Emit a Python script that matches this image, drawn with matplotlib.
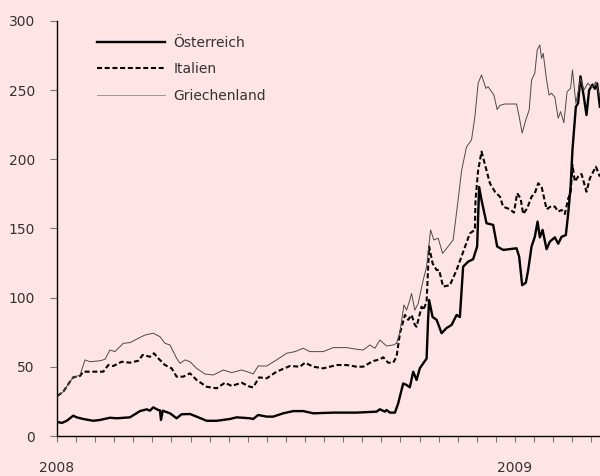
import matplotlib
matplotlib.use("Agg")
import matplotlib.pyplot as plt
from matplotlib.ticker import FixedLocator, FixedFormatter

# Days since 2008-01-01 and values (basis points)
at_days = [0, 3.8, 7.8, 13, 15.7, 21, 29, 34.4, 42.3, 47.7, 58.3, 66.3, 71.7, 74.3, 76.9, 80.9,
           82.3, 83.1, 84.5, 90.3, 95.6, 99.6, 106.3, 111.6, 119.6, 127.6, 138.2, 143.6, 154.2,
           156.8, 160.8, 167.6, 172.8, 180.8, 188.8, 196.8, 204.8, 220.8, 239.5, 255.4, 258.1,
           262.1, 263.4, 266.1, 270.1, 272.7, 276.7, 279.4, 282, 284.7, 287.4, 290, 295.4, 296.6,
           297.4, 300.2, 303.4, 307.4, 311.3, 315.4, 319.4, 322, 324.6, 328.6, 332.6, 335.8,
           337.4, 339.3, 343.3, 348.6, 351.8, 356.6, 367.3, 369.4, 371.8, 374.7, 376.6, 379.3,
           381.9, 384.1, 385.9, 388.1, 391.3, 393.9, 397.9, 400.6, 403.3, 406.7, 408.6, 410.5,
           412, 414.7, 416.5, 418.4, 421.1, 423.2, 425.3, 428, 429.9, 431.7, 433.9]
at_vals = [10.3, 9.4, 11, 14.7, 13.5, 12.3, 11, 11.6, 13.2, 12.8, 13.5, 18, 19.3, 18.3, 20.7, 18.8,
           18.5, 11.6, 18.3, 16.4, 12.8, 15.7, 15.9, 14, 11, 11, 12.3, 13.5, 12.8,
           12.3, 15.2, 14, 14, 16.4, 18, 18, 16.4, 16.9, 16.9, 17.6, 19.3,
           17.6, 18.8, 16.9, 16.9, 23.6, 38, 36.9, 35.2, 46.5, 40.5, 49, 56, 84,
           98.3, 86, 84, 74.3, 78, 80.3, 87.5, 86, 122.4, 126, 127.8, 137,
           180, 170.6, 153.8, 152.6, 137, 134.5, 135.7, 129.6, 109, 110.8, 120, 137,
           144, 155, 143.6, 149, 135, 140.5, 143.6, 139, 144, 145.3, 161, 180,
           207, 238, 240.5, 260, 245, 232, 250, 254, 251, 254.9, 238]

it_days = [0.2, 5, 10.4, 13, 18.4, 21, 29, 37, 41, 45, 51.7, 58.3, 65, 68.5, 74.3, 77.5, 80.9,
           86.3, 91.6, 95.6, 100.9, 106.3, 111.6, 119.6, 127.6, 134.2, 139.6, 147.6, 154.2,
           156.8, 161.6, 167.6, 175.5, 186.2, 194.2, 198.2, 204.8, 212.8, 223.5, 231.5, 239.5,
           244.7, 252.7, 258.1, 260.7, 264.7, 268.7, 271.4, 274.1, 278.1, 280.7, 283.4, 286,
           287.4, 291.4, 292.7, 295.4, 297.4, 300.2, 303.4, 305.4, 308.6, 314, 319.4, 324.6,
           330, 334, 334.5, 336.6, 339.3, 343.3, 346, 350, 354, 356.6, 362, 365.2, 367.8,
           370.5, 372.6, 375.8, 379.3, 381.9, 384.6, 387.3, 391.3, 395.2, 397.9, 400.6, 403.3,
           405.9, 408.6, 410.5, 412, 413.9, 416.5, 419.2, 423.2, 425.9, 430.7, 433.9]
it_vals = [28.9, 32, 39.3, 42.4, 43.4, 46.5, 46.5, 46.5, 51.3, 50.6, 53.7, 53, 54.4, 58.6, 57.3, 59.8, 56.2,
           51.3, 48.9, 42.9, 42.9, 45.3, 40.5, 35.6, 34.5, 38.5, 36.2, 38.5, 35.6,
           35.2, 42.4, 41.7, 46.5, 50.6, 50.1, 53, 50.1, 48.9, 51.3, 51.3, 50.1,
           50.1, 54.2, 55.4, 56.9, 53, 53, 57.3, 74.3, 87.5, 84, 87.5, 80.3,
           79, 93.5, 91, 97, 137, 124.8, 120, 120, 108, 109, 120, 133,
           146.5, 149, 170.6, 192, 205.6, 192, 182.7, 176.6, 173, 165.8, 163.9, 161.5, 175.5,
           171.8, 160.5, 164.6, 173, 175.5, 182.7, 180.3, 163.9, 166.3, 165.8, 162.2, 163.4,
           160.5, 171.8, 175.5, 196, 183.9, 187.5, 189.4, 176.6, 186.3, 194.7, 187.5]

gr_days = [0.2, 5, 10.4, 13, 18.4, 22.4, 26.4, 34.4, 38.4, 42.3, 46.3, 53, 58.3, 65, 70.3, 76.9,
           82.3, 86.3, 90.3, 95.6, 98.3, 102.3, 106.3, 111.6, 118.3, 124.9, 132.9, 139.6, 147.6,
           154.2, 156.8, 160.8, 167.6, 175.5, 183.5, 190.2, 196.8, 202.1, 212.8, 220.8, 231.5,
           239.5, 244.7, 250.1, 254.1, 258.1, 263.4, 268.7, 271.4, 274.1, 277.3, 279.4, 282,
           283.4, 286, 288.7, 292.7, 295.4, 298.6, 301.2, 304.7, 308.2, 312.6, 316.6, 320.6,
           323.4, 327.3, 331.3, 334, 336.6, 339.3, 342.8, 344.6, 347.3, 349.2, 351.8, 354, 358,
           367.3, 369.4, 371.8, 374.7, 377.4, 379.3, 381.9, 383.8, 385.9, 387.3, 388.6, 391.3,
           393.3, 395.2, 397.9, 400.6, 402.5, 405.1, 407.7, 410.5, 412, 414.7, 416.5, 418.4,
           421.1, 424.3, 427.5, 430.7, 433.9]
gr_vals = [28.9, 32, 39.3, 42.4, 44, 55, 53.7, 54.4, 55.4, 62.2, 61, 67, 67.5, 70.6, 73, 74.3,
           71.8, 67, 65.8, 56.2, 52.5, 55, 53.7, 48.9, 44.8, 44.1, 47.7, 45.8, 47.7,
           45.8, 44.8, 50.6, 50.6, 55, 59.8, 61, 63.4, 61, 61, 63.9, 63.9,
           62.7, 62.2, 65.8, 63.4, 69.4, 65.1, 65.8, 67, 75.4, 94.7, 91, 98.3,
           103, 91, 95.9, 112.8, 122.4, 149, 141.7, 143, 132, 137, 141.7, 170.6,
           192, 209, 214, 230.8, 255, 261, 251.3, 252.5, 248.9, 246.5, 236, 239, 240,
           240, 230.8, 219, 228.5, 235.7, 257.4, 262.3, 279, 282.7, 273, 276.6, 257.4,
           246.5, 247.8, 245, 229.7, 234.5, 226.5, 248.9, 251.3, 264.6, 240.5, 248.9, 258.6,
           250, 255, 252, 256, 245]

series_names = ["Österreich", "Italien", "Griechenland"]
year_ticks = [0, 366]
year_labels = ["2008", "2009"]

bg = "#FFE4E6"
fig = plt.figure(figsize=(6.0, 4.76), dpi=100, facecolor=bg)
ax = fig.add_axes([57 / 600, 1 - 436 / 476, 1 - 57 / 600, 415 / 476])
ax.set_facecolor(bg)

ax.plot(at_days, at_vals, color="black", lw=1.7, label=series_names[0], solid_joinstyle="round")
ax.plot(it_days, it_vals, color="black", lw=1.5, ls=(0, (2.4, 1.3)), label=series_names[1])
ax.plot(gr_days, gr_vals, color="#4a4a4a", lw=0.7, label=series_names[2])

ax.set_xlim(0, 434)
ax.set_ylim(0, 300)
ax.set_yticks(range(0, 301, 50))

half_month = 366 / 24
minor = [k * half_month for k in range(0, 29)]
ax.xaxis.set_major_locator(FixedLocator(year_ticks))
ax.xaxis.set_major_formatter(FixedFormatter(year_labels))
ax.xaxis.set_minor_locator(FixedLocator(minor))

for s in ["top", "right"]:
    ax.spines[s].set_visible(False)
for s in ["left", "bottom"]:
    ax.spines[s].set_linewidth(1.0)
    ax.spines[s].set_color("black")

ax.tick_params(axis="y", direction="out", length=5, width=0.8, color="#777777",
               pad=11, labelsize=10, labelcolor="#333333")
ax.tick_params(axis="x", which="both", direction="out", length=4, width=0.8, color="#777777",
               pad=14, labelsize=10, labelcolor="#333333")

leg = ax.legend(loc="upper left", bbox_to_anchor=(40 / 543, 0.965), frameon=False,
                handlelength=4.9, handletextpad=0.6, labelspacing=0.9,
                borderpad=0, borderaxespad=0, fontsize=10)
for t in leg.get_texts():
    t.set_color("#333333")
leg.get_lines()[2].set_color("#999999")

fig.savefig("out.png", dpi=100, facecolor=bg)
